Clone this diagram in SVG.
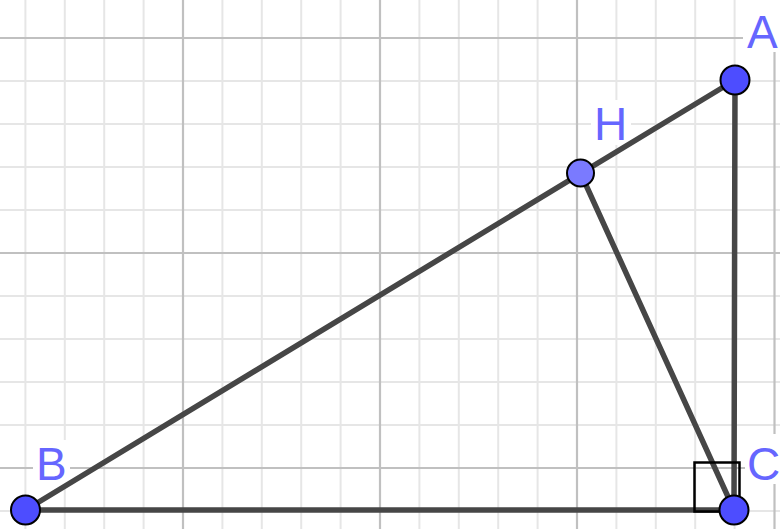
<svg xmlns="http://www.w3.org/2000/svg" width="780" height="529" viewBox="0 0 780 529">
<style>
.minor{stroke:#e6e6e6;stroke-width:2}
.major{stroke:#c0c0c0;stroke-width:2.2}
.seg{stroke:#464646;stroke-width:5.5;stroke-linecap:round;fill:none}
.pt{stroke:#000;stroke-width:2}
.free{fill:#4d4dff}
.dep{fill:#7a7aff}
.lbl{font-family:"Liberation Sans",Arial,sans-serif;font-size:46px;fill:#6666ff}
.bg{fill:#fff}
</style>
<rect width="780" height="529" fill="#fff"/>
<g id="grid">
<g class="minor">
<line x1="25.4" y1="0" x2="25.4" y2="529"/>
<line x1="64.8" y1="0" x2="64.8" y2="529"/>
<line x1="104.2" y1="0" x2="104.2" y2="529"/>
<line x1="143.6" y1="0" x2="143.6" y2="529"/>
<line x1="222.4" y1="0" x2="222.4" y2="529"/>
<line x1="261.8" y1="0" x2="261.8" y2="529"/>
<line x1="301.2" y1="0" x2="301.2" y2="529"/>
<line x1="340.6" y1="0" x2="340.6" y2="529"/>
<line x1="419.4" y1="0" x2="419.4" y2="529"/>
<line x1="458.8" y1="0" x2="458.8" y2="529"/>
<line x1="498.2" y1="0" x2="498.2" y2="529"/>
<line x1="537.6" y1="0" x2="537.6" y2="529"/>
<line x1="616.4" y1="0" x2="616.4" y2="529"/>
<line x1="655.8" y1="0" x2="655.8" y2="529"/>
<line x1="695.2" y1="0" x2="695.2" y2="529"/>
<line x1="734.6" y1="0" x2="734.6" y2="529"/>
<line x1="0" y1="-5" x2="780" y2="-5"/>
<line x1="0" y1="81" x2="780" y2="81"/>
<line x1="0" y1="124" x2="780" y2="124"/>
<line x1="0" y1="167" x2="780" y2="167"/>
<line x1="0" y1="210" x2="780" y2="210"/>
<line x1="0" y1="296" x2="780" y2="296"/>
<line x1="0" y1="339" x2="780" y2="339"/>
<line x1="0" y1="382" x2="780" y2="382"/>
<line x1="0" y1="425" x2="780" y2="425"/>
<line x1="0" y1="511" x2="780" y2="511"/>
</g>
<g class="major">
<line x1="183" y1="0" x2="183" y2="529"/>
<line x1="380" y1="0" x2="380" y2="529"/>
<line x1="577" y1="0" x2="577" y2="529"/>
<line x1="774.5" y1="0" x2="774.5" y2="529"/>
<line x1="0" y1="38" x2="780" y2="38"/>
<line x1="0" y1="253" x2="780" y2="253"/>
<line x1="0" y1="468" x2="780" y2="468"/>
</g>
</g>
<g id="label-backgrounds" class="bg">
<rect x="743" y="0" width="37" height="52"/>
<rect x="591" y="100" width="40" height="45"/>
<rect x="33" y="440" width="37" height="45"/>
<rect x="745" y="434" width="35" height="50"/>
</g>
<g id="connectors" class="seg">
<line id="AB" x1="735" y1="80" x2="25.5" y2="510"/>
<line id="BC" x1="25.5" y1="510" x2="734" y2="510"/>
<line id="CA" x1="734" y1="510" x2="735" y2="80"/>
<line id="HC" x1="580.5" y1="173" x2="734" y2="510"/>
</g>
<rect id="right-angle" x="694.5" y="462.5" width="45" height="49" fill="none" stroke="#000" stroke-width="2.5"/>
<g id="A">
<circle class="pt free" cx="735" cy="80" r="14.5"/>
<text class="lbl" x="747" y="48">A</text>
</g>
<g id="H">
<circle class="pt dep" cx="580.5" cy="173" r="13.5"/>
<text class="lbl" x="594" y="140">H</text>
</g>
<g id="B">
<circle class="pt free" cx="25.5" cy="510" r="14.5"/>
<text class="lbl" x="36" y="480">B</text>
</g>
<g id="C">
<circle class="pt free" cx="734" cy="510" r="14.5"/>
<text class="lbl" x="747" y="480">C</text>
</g>
</svg>
